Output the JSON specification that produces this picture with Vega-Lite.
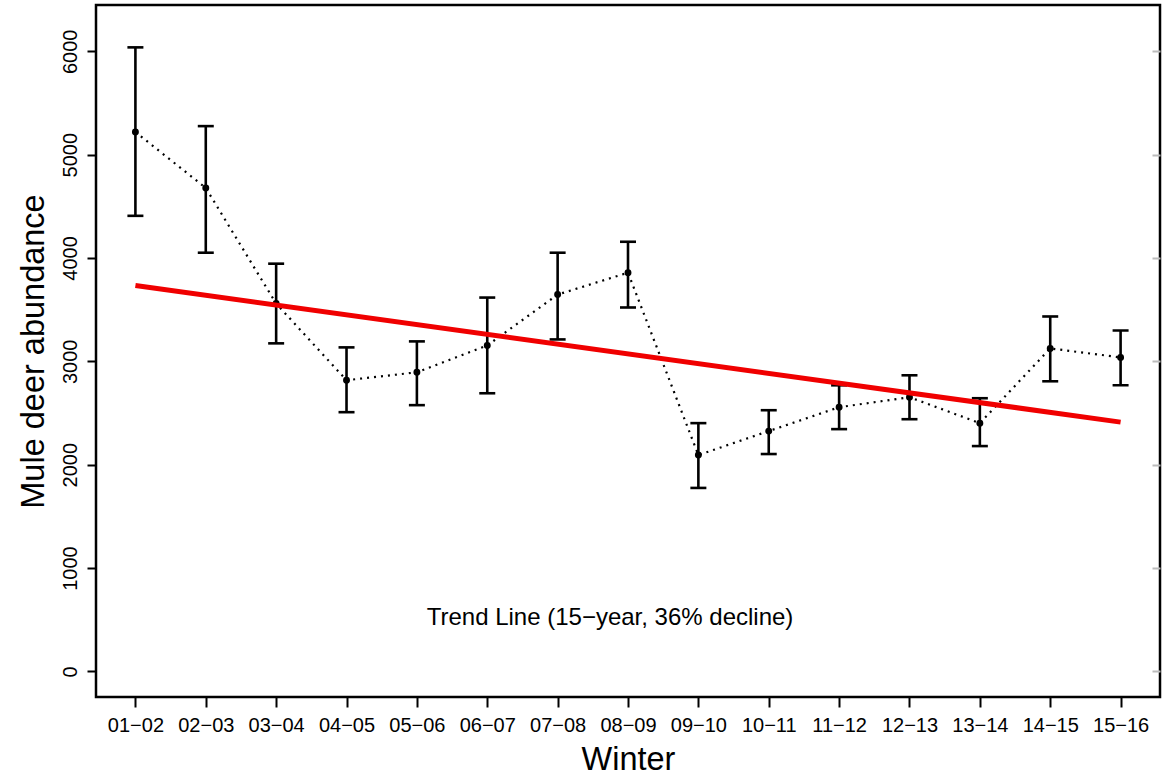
{
  "$schema": "https://vega.github.io/schema/vega-lite/v6.json",
  "width": 1064,
  "height": 692,
  "autosize": "none",
  "padding": {"left": 96, "top": 5, "right": 3, "bottom": 81},
  "background": "white",
  "config": {
    "view": {"stroke": "black", "strokeWidth": 2.5},
    "font": "Liberation Sans",
    "axis": {
      "grid": false,
      "domain": false,
      "tickColor": "black",
      "tickWidth": 2,
      "labelColor": "black",
      "titleColor": "black",
      "labelFontSize": 20,
      "titleFontSize": 32.5,
      "titleFontWeight": "normal",
      "labelFont": "Liberation Sans",
      "titleFont": "Liberation Sans"
    }
  },
  "data": {
    "values": [
      {"winter": "01−02", "abundance": 5219, "lower": 4408, "upper": 6038},
      {"winter": "02−03", "abundance": 4678, "lower": 4051, "upper": 5276},
      {"winter": "03−04", "abundance": 3559, "lower": 3174, "upper": 3945},
      {"winter": "04−05", "abundance": 2817, "lower": 2508, "upper": 3135},
      {"winter": "05−06", "abundance": 2894, "lower": 2576, "upper": 3193},
      {"winter": "06−07", "abundance": 3154, "lower": 2691, "upper": 3617},
      {"winter": "07−08", "abundance": 3646, "lower": 3212, "upper": 4051},
      {"winter": "08−09", "abundance": 3858, "lower": 3521, "upper": 4157},
      {"winter": "09−10", "abundance": 2093, "lower": 1775, "upper": 2402},
      {"winter": "10−11", "abundance": 2325, "lower": 2103, "upper": 2527},
      {"winter": "11−12", "abundance": 2556, "lower": 2344, "upper": 2768},
      {"winter": "12−13", "abundance": 2653, "lower": 2440, "upper": 2865},
      {"winter": "13−14", "abundance": 2402, "lower": 2180, "upper": 2643},
      {"winter": "14−15", "abundance": 3125, "lower": 2807, "upper": 3434},
      {"winter": "15−16", "abundance": 3038, "lower": 2768, "upper": 3299}
    ]
  },
  "encoding": {
    "x": {
      "field": "winter",
      "type": "ordinal",
      "sort": null,
      "scale": {"type": "point", "padding": 0.56},
      "axis": {
        "title": "Winter",
        "labelAngle": 0,
        "tickSize": 10,
        "labelPadding": 8,
        "titlePadding": 8
      }
    }
  },
  "resolve": {"axis": {"y": "independent"}},
  "layer": [
    {
      "layer": [
        {
          "mark": {"type": "line", "color": "black", "strokeWidth": 2.2, "strokeDash": [2, 5]},
          "encoding": {
            "y": {
              "field": "abundance",
              "type": "quantitative",
              "scale": {"domain": [-248, 6448], "nice": false, "zero": false},
              "axis": {
                "orient": "left",
                "title": "Mule deer abundance",
                "format": "d",
                "values": [0, 1000, 2000, 3000, 4000, 5000, 6000],
                "labelAngle": -90,
                "labelAlign": "center",
                "labelBaseline": "bottom",
                "tickSize": 9,
                "labelPadding": 7,
                "titlePadding": 10
              }
            }
          }
        },
        {
          "mark": {"type": "rule", "color": "black", "strokeWidth": 2.6},
          "encoding": {
            "y": {"field": "lower", "type": "quantitative"},
            "y2": {"field": "upper"}
          }
        },
        {
          "mark": {"type": "tick", "color": "black", "size": 16, "thickness": 2.6, "opacity": 1},
          "encoding": {"y": {"field": "lower", "type": "quantitative"}}
        },
        {
          "mark": {"type": "tick", "color": "black", "size": 16, "thickness": 2.6, "opacity": 1},
          "encoding": {"y": {"field": "upper", "type": "quantitative"}}
        },
        {
          "mark": {"type": "circle", "color": "black", "size": 48, "opacity": 1},
          "encoding": {"y": {"field": "abundance", "type": "quantitative"}}
        },
        {
          "data": {"values": [{"winter": "01−02", "trend": 3733}, {"winter": "15−16", "trend": 2412}]},
          "mark": {"type": "line", "color": "#f00000", "strokeWidth": 5},
          "encoding": {"y": {"field": "trend", "type": "quantitative"}}
        },
        {
          "data": {"values": [{"winter": "08−09", "ypos": 517, "label": "Trend Line (15−year, 36% decline)"}]},
          "mark": {"type": "text", "fontSize": 24, "color": "black", "align": "center", "baseline": "middle", "dx": -18, "font": "Liberation Sans"},
          "encoding": {
            "y": {"field": "ypos", "type": "quantitative"},
            "text": {"field": "label"}
          }
        }
      ]
    },
    {
      "mark": {"type": "rule", "opacity": 0},
      "encoding": {
        "y": {
          "field": "abundance",
          "type": "quantitative",
          "axis": {
            "orient": "right",
            "title": null,
            "labels": false,
            "values": [0, 1000, 2000, 3000, 4000, 5000, 6000],
            "tickColor": "#bbbbbb",
            "tickSize": -8,
            "tickWidth": 2
          }
        }
      }
    }
  ]
}
